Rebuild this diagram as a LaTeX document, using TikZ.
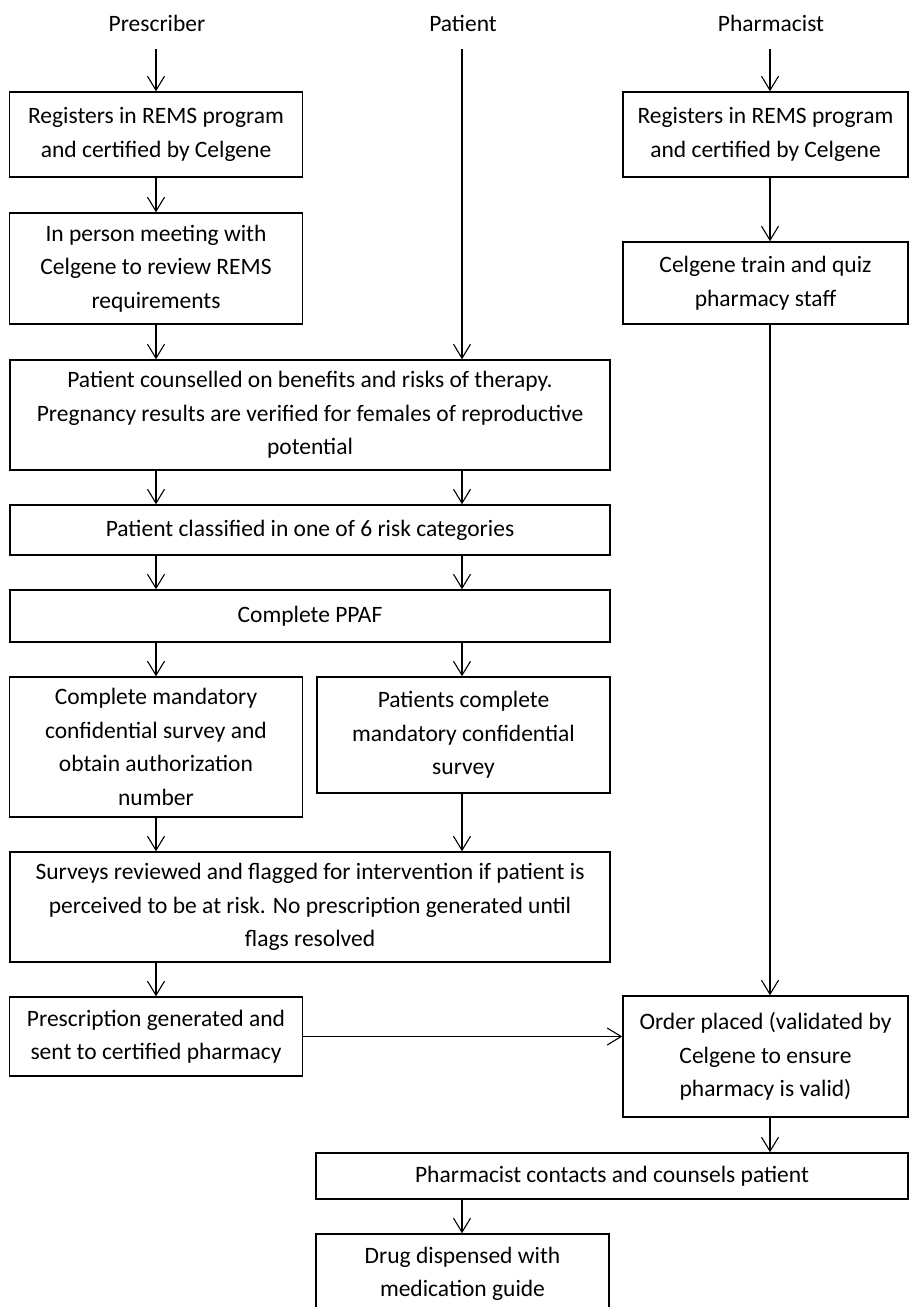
\documentclass[tikz,border=0pt]{standalone}
\usepackage{fontspec}
\setmainfont{Carlito}
\usetikzlibrary{arrows.meta,calc}
\begin{document}
\begin{tikzpicture}[x=1pt,y=-1pt,
  box/.style={draw,line width=1.5pt,inner sep=0pt,align=center,anchor=center,
    font=\fontsize{23.5}{33.5}\selectfont},
  lbl/.style={inner sep=0pt,minimum height=52pt,anchor=center,
    font=\fontsize{23.5}{33.5}\selectfont},
  arr/.style={line width=1.1pt,-{Straight Barb[length=14pt,width=17pt,line width=1.1pt]}},
  ln/.style={line width=1.1pt}]
\useasboundingbox[fill=white] (0,0) rectangle (911,1307);
\coordinate (colPr) at (156,0);
\coordinate (colPa) at (462,0);
\coordinate (colPh) at (770,0);

\node[lbl] (lPr) at (157,23) {Prescriber};
\node[lbl] (lPa) at (463,23) {Patient};
\node[lbl] (lPh) at (771,23) {Pharmacist};

\node[box,minimum width=293pt,minimum height=85pt] (p1) at (156,134.5)
  {Registers in REMS program\\and certified by Celgene};
\node[box,minimum width=293pt,minimum height=111pt] (p2) at (156,268.5)
  {In person meeting with\\Celgene to review REMS\\requirements};
\node[box,minimum width=285pt,minimum height=85pt] (h1) at (765.5,134.5)
  {Registers in REMS program\\and certified by Celgene};
\node[box,minimum width=285pt,minimum height=82pt] (h2) at (765.5,283)
  {Celgene train and quiz\\pharmacy staff};
\node[box,minimum width=600pt,minimum height=110pt] (c1) at (310,415)
  {Patient counselled on benefits and risks of therapy.\\Pregnancy results are verified for females of reproductive\\potential};
\node[box,minimum width=600pt,minimum height=50pt] (c2) at (310,530)
  {Patient classified in one of 6 risk categories};
\node[box,minimum width=600pt,minimum height=52pt] (c3) at (310,616)
  {Complete PPAF};
\node[box,minimum width=293pt,minimum height=140pt] (sl) at (156,747)
  {Complete mandatory\\confidential survey and\\obtain authorization\\number};
\node[box,minimum width=293pt,minimum height=116pt] (sr) at (463.5,735)
  {Patients complete\\mandatory confidential\\survey};
\node[box,minimum width=600pt,minimum height=110pt] (sv) at (310,907)
  {Surveys reviewed and flagged for intervention if patient is\\perceived to be at risk. No prescription generated until\\flags resolved};
\node[box,minimum width=293pt,minimum height=79pt] (rx) at (156,1036.5)
  {Prescription generated and\\sent to certified pharmacy};
\node[box,minimum width=285pt,minimum height=121pt] (od) at (765.5,1056.5)
  {Order placed (validated by\\Celgene to ensure\\pharmacy is valid)};
\node[box,minimum width=592pt,minimum height=46pt] (ct) at (612,1176)
  {Pharmacist contacts and counsels patient};
\node[box,minimum width=293pt,minimum height=80pt] (dr) at (462.5,1274)
  {Drug dispensed with\\medication guide};

% connectors
\draw[arr] (lPr.south -| colPr) -- (p1.north -| colPr);
\draw[arr] (p1.south -| colPr) -- (p2.north -| colPr);
\draw[arr] (p2.south -| colPr) -- (c1.north -| colPr);
\draw[arr] (lPa.south -| colPa) -- (c1.north -| colPa);
\draw[arr] (lPh.south -| colPh) -- (h1.north -| colPh);
\draw[arr] (h1.south -| colPh) -- (h2.north -| colPh);
\draw[arr] (h2.south -| colPh) -- (od.north -| colPh);
\draw[arr] (c1.south -| colPr) -- (c2.north -| colPr);
\draw[arr] (c1.south -| colPa) -- (c2.north -| colPa);
\draw[arr] (c2.south -| colPr) -- (c3.north -| colPr);
\draw[arr] (c2.south -| colPa) -- (c3.north -| colPa);
\draw[arr] (c3.south -| colPr) -- (sl.north -| colPr);
\draw[arr] (c3.south -| colPa) -- (sr.north -| colPa);
\draw[arr] (sl.south -| colPr) -- (sv.north -| colPr);
\draw[arr] (sr.south -| colPa) -- (sv.north -| colPa);
\draw[arr] (sv.south -| colPr) -- (rx.north -| colPr);
\draw[arr] (rx.east) -- (rx.east -| od.west);
\draw[arr] (od.south -| colPh) -- (ct.north -| colPh);
\draw[arr] (ct.south -| colPa) -- (dr.north -| colPa);
\end{tikzpicture}
\end{document}
